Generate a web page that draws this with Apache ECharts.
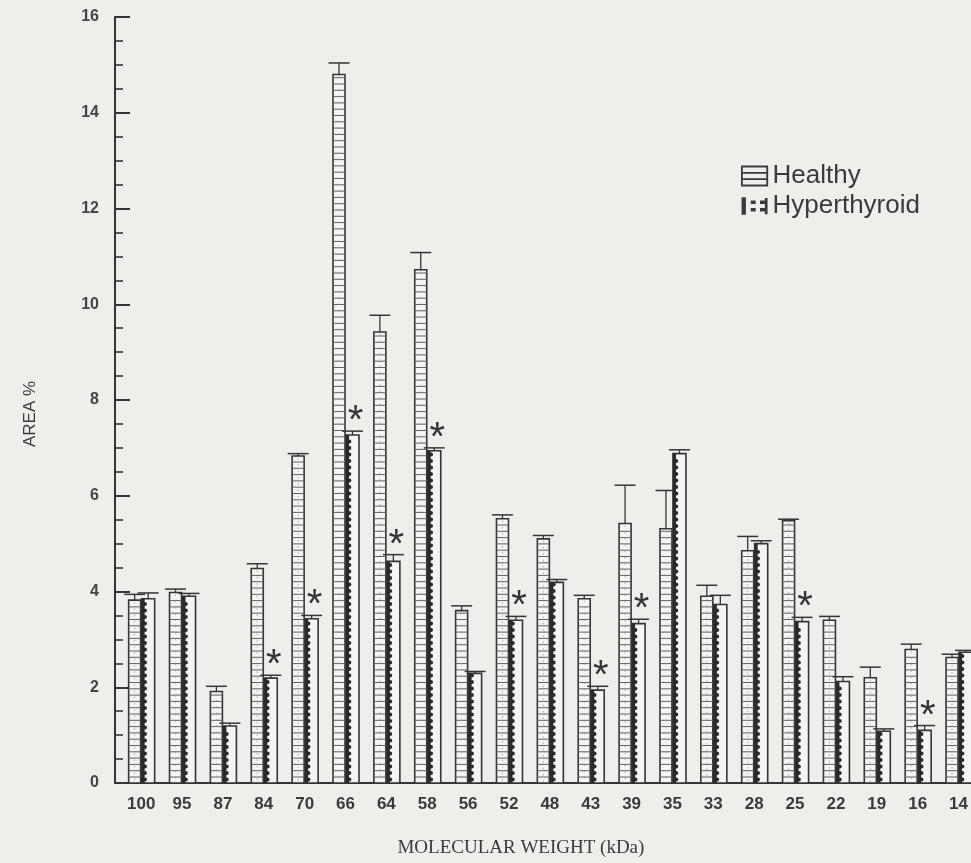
<!DOCTYPE html>
<html>
<head>
<meta charset="utf-8">
<script src="https://cdn.jsdelivr.net/npm/echarts@6/dist/echarts.min.js"></script>
<style>
html,body{margin:0;padding:0;background:#eeeeeb;}
#chart{width:971px;height:863px;}
</style>
</head>
<body>
<div id="chart"></div>
<script>
const categories = ['100','95','87','84','70','66','64','58','56','52','48','43','39','35','33','28','25','22','19','16','14'];
const healthy    = [3.82, 3.98, 1.91, 4.48, 6.83, 14.8, 9.42, 10.72, 3.6, 5.52, 5.1, 3.85, 5.42, 5.31, 3.9, 4.85, 5.48, 3.4, 2.2, 2.79, 2.62];
const healthyErr = [0.12, 0.07, 0.11, 0.10, 0.05, 0.24, 0.35, 0.36, 0.10, 0.08, 0.07, 0.07, 0.80, 0.80, 0.23, 0.30, 0.03, 0.08, 0.22, 0.11, 0.07];
const hyper      = [3.85, 3.9, 1.19, 2.19, 3.43, 7.27, 4.63, 6.94, 2.29, 3.4, 4.19, 1.94, 3.33, 6.88, 3.73, 5.0, 3.37, 2.12, 1.08, 1.1, 2.73];
const hyperErr   = [0.12, 0.06, 0.06, 0.06, 0.07, 0.08, 0.14, 0.06, 0.04, 0.08, 0.06, 0.08, 0.09, 0.08, 0.19, 0.06, 0.09, 0.10, 0.05, 0.10, 0.04];
const significant= [0, 0, 0, 1, 1, 1, 1, 1, 0, 1, 0, 1, 1, 0, 0, 0, 1, 0, 0, 1, 0];
const yTicks = [0, 2, 4, 6, 8, 10, 12, 14, 16];

const INK = '#353535';

function healthyItem(params, api) {
  const i = api.value(0), v = api.value(1), e = api.value(2);
  const base = api.coord([i, 0]);
  const top = api.coord([i, v]);
  const cap = api.coord([i, v + e]);
  const w = 12;
  const x0 = base[0] - 12.5;
  const cx = x0 + w / 2;
  const h = base[1] - top[1];
  const children = [];
  children.push({type: 'rect', shape: {x: x0, y: top[1], width: w, height: h},
    style: {fill: '#f4f4f2', stroke: INK, lineWidth: 1.6}});
  for (let y = base[1] - 6; y > top[1] + 2; y -= 6.3) {
    children.push({type: 'line', shape: {x1: x0, y1: y, x2: x0 + w, y2: y},
      style: {stroke: '#606060', lineWidth: 1}});
  }
  children.push({type: 'line', shape: {x1: cx, y1: top[1] + 2, x2: cx, y2: base[1]},
    style: {stroke: '#9a9a9a', lineWidth: 0.8, lineDash: [1.5, 4.8]}});
  children.push({type: 'line', shape: {x1: cx, y1: top[1], x2: cx, y2: cap[1]},
    style: {stroke: INK, lineWidth: 1.3}});
  children.push({type: 'line', shape: {x1: cx - 10.5, y1: cap[1], x2: cx + 10.5, y2: cap[1]},
    style: {stroke: INK, lineWidth: 1.5}});
  return {type: 'group', children: children};
}

function hyperItem(params, api) {
  const i = api.value(0), v = api.value(1), e = api.value(2), s = api.value(3);
  const base = api.coord([i, 0]);
  const top = api.coord([i, v]);
  const cap = api.coord([i, v + e]);
  const w = 13;
  const x0 = base[0] + 0.5;
  const cx = x0 + w / 2;
  const h = base[1] - top[1];
  const children = [];
  children.push({type: 'rect', shape: {x: x0, y: top[1], width: w, height: h},
    style: {fill: '#f4f4f2', stroke: INK, lineWidth: 1.6}});
  children.push({type: 'line', shape: {x1: x0 + 1.5, y1: top[1], x2: x0 + 1.5, y2: base[1]},
    style: {stroke: '#2a2a2a', lineWidth: 3}});
  for (let y = base[1] - 3.5; y > top[1] + 2; y -= 6.5) {
    children.push({type: 'circle', shape: {cx: x0 + 3.3, cy: y, r: 2},
      style: {fill: '#2a2a2a'}});
  }
  children.push({type: 'line', shape: {x1: cx, y1: top[1], x2: cx, y2: cap[1]},
    style: {stroke: INK, lineWidth: 1.3}});
  children.push({type: 'line', shape: {x1: cx - 10.5, y1: cap[1], x2: cx + 10.5, y2: cap[1]},
    style: {stroke: INK, lineWidth: 1.5}});
  if (s) {
    children.push({type: 'text', x: cx + 3, y: cap[1] - 9,
      style: {text: '*', fontSize: 40, fontFamily: 'Liberation Sans', fill: INK,
        align: 'center', verticalAlign: 'middle'}});
  }
  return {type: 'group', children: children};
}

const healthyData = categories.map((c, i) => [i, healthy[i], healthyErr[i]]);
const hyperData = categories.map((c, i) => [i, hyper[i], hyperErr[i], significant[i]]);

const chart = echarts.init(document.getElementById('chart'), null, {renderer: 'canvas'});
chart.setOption({
  backgroundColor: '#eeeeeb',
  animation: false,
  grid: {left: 115, right: 0, top: 17, bottom: 78, containLabel: false},
  legend: {
    orient: 'vertical', left: 736, top: 158, itemGap: 4,
    itemWidth: 26, itemHeight: 19,
    textStyle: {fontSize: 26, color: '#3a3a3a', fontFamily: 'Liberation Sans', padding: [0, 0, 0, 0]},
    data: [
      {name: 'Healthy',
       icon: 'path://M0,0L24,0L24,18L0,18Z M0,6L24,6 M0,12L24,12',
       itemStyle: {color: 'rgba(0,0,0,0)', borderColor: '#3a3a3a', borderWidth: 1.8}},
      {name: 'Hyperthyroid',
       icon: 'path://M0,1L4,1L4,17L0,17Z M8.5,4h4.5v3.2h-4.5Z M8.5,10.8h4.5v3.2h-4.5Z M17,4h4.5v3.2h-4.5Z M17,10.8h4.5v3.2h-4.5Z M21.5,1.5L24,1.5L24,16.5L21.5,16.5Z',
       itemStyle: {color: '#3a3a3a', borderWidth: 0}}
    ]
  },
  xAxis: {
    type: 'value', min: -0.64, max: 20.3,
    name: 'MOLECULAR WEIGHT (kDa)', nameLocation: 'middle', nameGap: 56,
    nameTextStyle: {fontFamily: 'Liberation Serif', fontSize: 19, color: '#3a3a3a', padding: [0, 44, 0, 0]},
    axisLine: {show: true, onZero: false, lineStyle: {color: INK, width: 2}},
    axisTick: {show: false},
    splitLine: {show: false},
    axisLabel: {
      customValues: categories.map((c, i) => i),
      formatter: v => categories[Math.round(v)],
      margin: 13, fontSize: 17, fontWeight: 'bold',
      fontFamily: "'Liberation Sans Narrow', 'Liberation Sans'", color: '#3a3a3a'
    }
  },
  yAxis: {
    type: 'value', min: 0, max: 16, interval: 2,
    name: 'AREA %', nameLocation: 'middle', nameGap: 76,
    nameTextStyle: {fontFamily: 'Liberation Sans', fontSize: 17, color: '#3a3a3a', padding: [0, 28, 0, 0]},
    axisLine: {show: true, onZero: false, lineStyle: {color: INK, width: 2}},
    axisTick: {show: true, inside: true, length: 15, lineStyle: {color: INK, width: 2}},
    minorTick: {show: true, splitNumber: 4, length: 8, lineStyle: {color: INK, width: 1.6}},
    splitLine: {show: false},
    axisLabel: {
      customValues: yTicks,
      margin: 16, fontSize: 16, fontWeight: 'bold',
      fontFamily: 'Liberation Sans', color: '#444'
    }
  },
  series: [
    {name: 'Healthy', type: 'custom', renderItem: healthyItem, data: healthyData,
     encode: {x: 0, y: 1}, itemStyle: {color: '#3a3a3a'}, clip: false},
    {name: 'Hyperthyroid', type: 'custom', renderItem: hyperItem, data: hyperData,
     encode: {x: 0, y: 1}, itemStyle: {color: '#3a3a3a'}, clip: false}
  ]
});
</script>
</body>
</html>
